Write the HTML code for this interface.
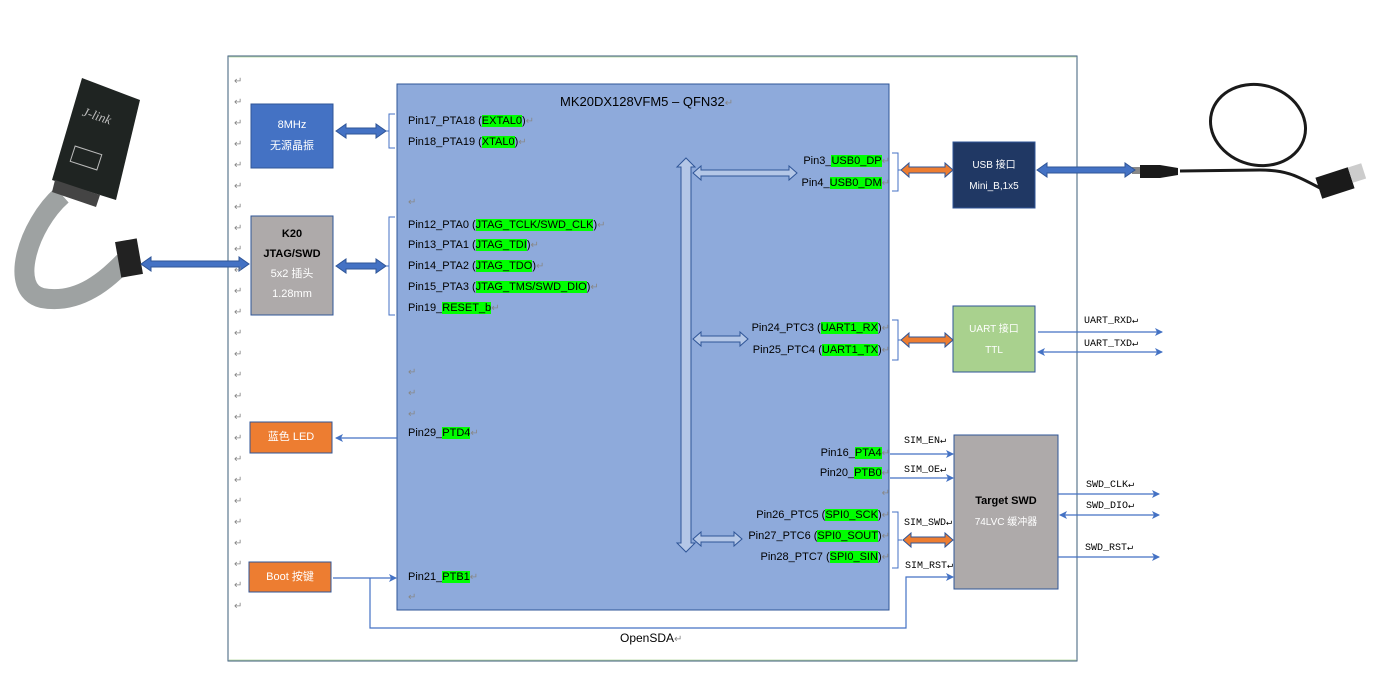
<!DOCTYPE html>
<html><head><meta charset="utf-8"><style>
body{margin:0;background:#fff;}
#w{position:relative;width:1386px;height:694px;overflow:hidden;font-family:"Liberation Sans","Noto Sans CJK SC",sans-serif;}
.t{position:absolute;font-size:11px;color:#000;white-space:nowrap;line-height:14px;}
.r{text-align:right;}
.g{background:#00ff00;}
.m{color:#888;font-size:10px;}
.c{position:absolute;text-align:center;color:#fff;font-size:11px;line-height:21px;}
.mono{position:absolute;font-family:"Liberation Mono","Noto Sans CJK SC",monospace;font-size:10px;color:#000;white-space:nowrap;}
</style></head><body><div id="w">
<svg width="1386" height="694" style="position:absolute;left:0;top:0">
<defs>
<marker id="ah" markerWidth="8" markerHeight="8" refX="7" refY="4" orient="auto" markerUnits="userSpaceOnUse"><path d="M0,0L8,4L0,8L2,4z" fill="#4472c4"/></marker>
<marker id="as" markerWidth="8" markerHeight="8" refX="1" refY="4" orient="auto" markerUnits="userSpaceOnUse"><path d="M8,0L0,4L8,8L6,4z" fill="#4472c4"/></marker>
</defs>
<rect x="228" y="56" width="849" height="605" fill="none" stroke="#3b5c7a" stroke-width="1"/>
<line x1="229" y1="57" x2="1076" y2="57" stroke="#c5e0b4" stroke-width="1"/>
<line x1="229" y1="660" x2="1076" y2="660" stroke="#c5e0b4" stroke-width="1"/>
<!-- J-link -->
<path d="M62,195 C28,225 8,290 42,298 C80,305 108,278 124,262" fill="none" stroke="#9ea2a2" stroke-width="20"/>
<polygon points="82,78 140,100 116,200 52,180" fill="#1f2422"/>
<polygon points="55,180 100,195 96,207 52,192" fill="#444"/>
<text x="82" y="118" fill="#bbb" font-size="13" font-style="italic" font-family="Liberation Serif" transform="rotate(18 90 115)">J-link</text>
<rect x="72" y="150" width="28" height="16" fill="none" stroke="#bbb" stroke-width="1" transform="rotate(18 86 158)"/>
<rect x="118" y="240" width="22" height="36" fill="#222" transform="rotate(-10 129 258)"/>
<!-- USB cable -->
<ellipse cx="1258" cy="125" rx="48" ry="40" fill="none" stroke="#1a1a1a" stroke-width="3" transform="rotate(15 1258 125)"/>
<path d="M1180,171 L1260,170 C1290,170 1300,178 1320,188" fill="none" stroke="#1a1a1a" stroke-width="3"/>
<path d="M1140,165 L1160,165 L1178,168 L1178,175 L1160,178 L1140,178z" fill="#1a1a1a"/>
<rect x="1132" y="167" width="8" height="7" fill="#888"/>
<rect x="1318" y="172" width="34" height="22" fill="#1a1a1a" transform="rotate(-18 1335 183)"/>
<rect x="1350" y="165" width="14" height="16" fill="#ccc" transform="rotate(-18 1357 173)"/>
<!-- MCU -->
<rect x="397" y="84" width="492" height="526" fill="#8eaadb" stroke="#2f5597" stroke-width="1"/>
<rect x="251" y="104" width="82" height="64" fill="#4472c4" stroke="#2f5597"/>
<rect x="251" y="216" width="82" height="99" fill="#aeaaaa" stroke="#2f5597"/>
<rect x="250" y="422" width="82" height="31" fill="#ed7d31" stroke="#2f5597"/>
<rect x="249" y="562" width="82" height="30" fill="#ed7d31" stroke="#2f5597"/>
<rect x="953" y="142" width="82" height="66" fill="#203864" stroke="#2f5597"/>
<rect x="953" y="306" width="82" height="66" fill="#a9d18e" stroke="#2f5597"/>
<rect x="954" y="435" width="104" height="154" fill="#aeaaaa" stroke="#2f5597"/>
<g fill="none" stroke="#4472c4" stroke-width="1">
<path d="M395,114H389V148H395M389,131H386"/>
<path d="M395,217H389V315H395M389,266H386"/>
<path d="M892,153H898V191H892M898,170H901"/>
<path d="M892,320H898V360H892M898,340H901"/>
<path d="M892,512H898V568H892M898,540H902"/>
</g>
<g fill="#4472c4" stroke="#2f5597" stroke-width="1">
<path d="M336,131l10,-7v4h30v-4l10,7l-10,7v-4h-30v4z"/>
<path d="M336,266l10,-7v4h30v-4l10,7l-10,7v-4h-30v4z"/>
<path d="M141,264l10,-7v4h88v-4l10,7l-10,7v-4h-88v4z"/>
<path d="M1037,170l10,-7v4h78v-4l10,7l-10,7v-4h-78v4z"/>
</g>
<g fill="#ed7d31" stroke="#2f5597" stroke-width="1">
<path d="M901,170l8,-7v4h36v-4l8,7l-8,7v-4h-36v4z"/>
<path d="M901,340l8,-7v4h36v-4l8,7l-8,7v-4h-36v4z"/>
<path d="M903,540l8,-7v4h34v-4l8,7l-8,7v-4h-34v4z"/>
</g>
<g fill="#b4c7e7" stroke="#2f5597" stroke-width="1">
<path d="M686,158l9,9h-4v376h4l-9,9l-9,-9h4v-376h-4z"/>
<path d="M693,173l8,-7v4h88v-4l8,7l-8,7v-4h-88v4z"/>
<path d="M693,339l8,-7v4h39v-4l8,7l-8,7v-4h-39v4z"/>
<path d="M693,539l8,-7v4h33v-4l8,7l-8,7v-4h-33v4z"/>
</g>
<g stroke="#4472c4" stroke-width="1.2" fill="none">
<line x1="397" y1="438" x2="336" y2="438" marker-end="url(#ah)"/>
<line x1="333" y1="578" x2="396" y2="578" marker-end="url(#ah)"/>
<path d="M370,578V628H906V577H953" marker-end="url(#ah)"/>
<line x1="890" y1="454" x2="953" y2="454" marker-end="url(#ah)"/>
<line x1="890" y1="478" x2="953" y2="478" marker-end="url(#ah)"/>
<line x1="1038" y1="332" x2="1162" y2="332" marker-end="url(#ah)"/>
<line x1="1038" y1="352" x2="1162" y2="352" marker-end="url(#ah)" marker-start="url(#as)"/>
<line x1="1058" y1="494" x2="1159" y2="494" marker-end="url(#ah)"/>
<line x1="1060" y1="515" x2="1159" y2="515" marker-end="url(#ah)" marker-start="url(#as)"/>
<line x1="1058" y1="557" x2="1159" y2="557" marker-end="url(#ah)"/>
</g>
</svg>
<div class="t m" style="left:234px;top:71px;line-height:21px;">↵<br>↵<br>↵<br>↵<br>↵<br>↵<br>↵<br>↵<br>↵<br>↵<br>↵<br>↵<br>↵<br>↵<br>↵<br>↵<br>↵<br>↵<br>↵<br>↵<br>↵<br>↵<br>↵<br>↵<br>↵<br>↵</div>
<div class="c" style="left:251px;top:115px;width:82px;">8MHz<br>无源晶振</div>
<div class="c" style="left:251px;top:224px;width:82px;color:#000;font-weight:bold;line-height:20px;">K20<br>JTAG/SWD<br><span style="color:#fff;font-weight:normal">5x2 插头<br>1.28mm</span></div>
<div class="c" style="left:250px;top:427px;width:82px;">蓝色 LED</div>
<div class="c" style="left:249px;top:567px;width:82px;">Boot 按键</div>
<div class="c" style="left:953px;top:155px;width:82px;font-size:10px;">USB 接口<br>Mini_B,1x5</div>
<div class="c" style="left:953px;top:319px;width:82px;font-size:10px;">UART 接口<br>TTL</div>
<div class="c" style="left:954px;top:491px;width:104px;color:#000;font-weight:bold;">Target SWD<br><span style="color:#fff;font-weight:normal;font-size:10px">74LVC 缓冲器</span></div>
<div class="t" style="left:560px;top:95px;font-size:13px;">MK20DX128VFM5 – QFN32<span class="m">↵</span></div>
<div class="t" style="left:408px;top:114px;">Pin17_PTA18 (<span class="g">EXTAL0</span>)<span class="m">↵</span></div>
<div class="t" style="left:408px;top:135px;">Pin18_PTA19 (<span class="g">XTAL0</span>)<span class="m">↵</span></div>
<div class="t m" style="left:408px;top:196px;">↵</div>
<div class="t" style="left:408px;top:218px;">Pin12_PTA0 (<span class="g">JTAG_TCLK/SWD_CLK</span>)<span class="m">↵</span></div>
<div class="t" style="left:408px;top:238px;">Pin13_PTA1 (<span class="g">JTAG_TDI</span>)<span class="m">↵</span></div>
<div class="t" style="left:408px;top:259px;">Pin14_PTA2 (<span class="g">JTAG_TDO</span>)<span class="m">↵</span></div>
<div class="t" style="left:408px;top:280px;">Pin15_PTA3 (<span class="g">JTAG_TMS/SWD_DIO</span>)<span class="m">↵</span></div>
<div class="t" style="left:408px;top:301px;">Pin19_<span class="g">RESET_b</span><span class="m">↵</span></div>
<div class="t m" style="left:408px;top:362px;line-height:21px;">↵<br>↵<br>↵</div>
<div class="t" style="left:408px;top:426px;">Pin29_<span class="g">PTD4</span><span class="m">↵</span></div>
<div class="t" style="left:408px;top:570px;">Pin21_<span class="g">PTB1</span><span class="m">↵</span></div>
<div class="t m" style="left:408px;top:591px;">↵</div>
<div class="t r" style="right:496px;top:154px;">Pin3_<span class="g">USB0_DP</span><span class="m">↵</span></div>
<div class="t r" style="right:496px;top:176px;">Pin4_<span class="g">USB0_DM</span><span class="m">↵</span></div>
<div class="t r" style="right:496px;top:321px;">Pin24_PTC3 (<span class="g">UART1_RX</span>)<span class="m">↵</span></div>
<div class="t r" style="right:496px;top:343px;">Pin25_PTC4 (<span class="g">UART1_TX</span>)<span class="m">↵</span></div>
<div class="t r" style="right:496px;top:446px;">Pin16_<span class="g">PTA4</span><span class="m">↵</span></div>
<div class="t r" style="right:496px;top:466px;">Pin20_<span class="g">PTB0</span><span class="m">↵</span></div>
<div class="t m r" style="right:496px;top:487px;">↵</div>
<div class="t r" style="right:496px;top:508px;">Pin26_PTC5 (<span class="g">SPI0_SCK</span>)<span class="m">↵</span></div>
<div class="t r" style="right:496px;top:529px;">Pin27_PTC6 (<span class="g">SPI0_SOUT</span>)<span class="m">↵</span></div>
<div class="t r" style="right:496px;top:550px;">Pin28_PTC7 (<span class="g">SPI0_SIN</span>)<span class="m">↵</span></div>
<div class="mono" style="left:904px;top:435px;">SIM_EN↵</div>
<div class="mono" style="left:904px;top:464px;">SIM_OE↵</div>
<div class="mono" style="left:904px;top:517px;">SIM_SWD↵</div>
<div class="mono" style="left:905px;top:560px;">SIM_RST↵</div>
<div class="mono" style="left:1084px;top:315px;">UART_RXD↵</div>
<div class="mono" style="left:1084px;top:338px;">UART_TXD↵</div>
<div class="mono" style="left:1086px;top:479px;">SWD_CLK↵</div>
<div class="mono" style="left:1086px;top:500px;">SWD_DIO↵</div>
<div class="mono" style="left:1085px;top:542px;">SWD_RST↵</div>
<div class="t" style="left:620px;top:631px;font-size:12px;">OpenSDA<span class="m">↵</span></div>
</div></body></html>
